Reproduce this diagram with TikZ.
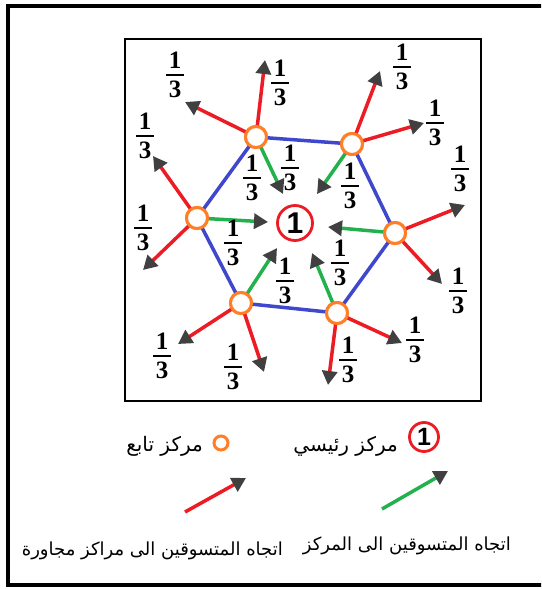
\documentclass[tikz,border=0pt]{standalone}
\usepackage{fontspec}
\setmainfont{Liberation Serif}
\newfontfamily\arabicfont[Script=Arabic]{DejaVu Sans}
\newfontfamily\digitfont{Liberation Sans}
\TeXXeTstate=1
\usetikzlibrary{arrows.meta}
\definecolor{cred}{RGB}{237,28,36}
\definecolor{cgreen}{RGB}{34,177,76}
\definecolor{cblue}{RGB}{63,72,204}
\definecolor{corange}{RGB}{255,127,39}
\definecolor{ctip}{RGB}{64,64,64}
\newcommand{\tf}{\vbox{\offinterlineskip\halign{\hfil##\hfil\cr \textbf{1}\cr\noalign{\kern5pt}\rule{0.7em}{2.6pt}\cr\noalign{\kern4.5pt}\textbf{3}\cr}}}
\tikzset{
  x=1pt,y=-1pt,
  sat/.style={circle,draw=corange,line width=3pt,fill=white,minimum size=21pt,inner sep=0pt},
  maincirc/.style={circle,draw=cred,line width=2.8pt,fill=white,minimum size=35pt,inner sep=0pt,font=\digitfont\bfseries\fontsize{30}{30}\selectfont},
  edge/.style={draw=cblue,line width=3.5pt},
  rarrow/.style={draw=cred,line width=3.5pt,-{Triangle[length=14pt,width=15pt,color=ctip]}},
  garrow/.style={draw=cgreen,line width=3.5pt,-{Triangle[length=14pt,width=15pt,color=ctip]}},
  frac/.style={font=\fontsize{25}{27}\selectfont,inner sep=0pt},
  artext/.style={font=\arabicfont\fontsize{18}{20}\selectfont,inner sep=0pt},
  artextb/.style={font=\arabicfont\fontsize{20}{22}\selectfont,inner sep=0pt}
}
\begin{document}
\begin{tikzpicture}
\useasboundingbox (0,0) rectangle (541,589);
\clip (0,0) rectangle (541,589);
\fill[white] (0,0) rectangle (541,589);
% outer frame
\draw[line width=4pt] (560,6) -- (8,6) -- (8,585) -- (560,585);
% inner box
\draw[line width=2.5pt] (125,39) rectangle (481,401);
% hexagon vertices
\node[sat] (A) at (256,137) {};
\node[sat] (B) at (352,144) {};
\node[sat] (Cc) at (395,233) {};
\node[sat] (D) at (337,313) {};
\node[sat] (E) at (241,303) {};
\node[sat] (F) at (197,218) {};
\node[maincirc] (M) at (295,223) {1};
% edges
\path[edge] (A.center) -- (B.center) -- (Cc.center) -- (D.center) -- (E.center) -- (F.center) -- cycle;
% green arrow ends
\coordinate (gA) at (283,194);
\coordinate (gB) at (317,194);
\coordinate (gC) at (328,227);
\coordinate (gD) at (312,253);
\coordinate (gE) at (277,248);
\coordinate (gF) at (268,222);
% red arrow ends
\coordinate (rA1) at (265,60);
\coordinate (rA2) at (185,102);
\coordinate (rB1) at (380,71);
\coordinate (rB2) at (424,123);
\coordinate (rC1) at (465,205);
\coordinate (rC2) at (442,284);
\coordinate (rD1) at (402,343);
\coordinate (rD2) at (328,385);
\coordinate (rE1) at (178,344);
\coordinate (rE2) at (264,372);
\coordinate (rF1) at (153,156);
\coordinate (rF2) at (143,270);
\foreach \v/\t in {A/gA,B/gB,Cc/gC,D/gD,E/gE,F/gF}{
  \draw[garrow] (\v.center) -- (\t);
}
\foreach \v/\t in {A/rA1,A/rA2,B/rB1,B/rB2,Cc/rC1,Cc/rC2,D/rD1,D/rD2,E/rE1,E/rE2,F/rF1,F/rF2}{
  \draw[rarrow] (\v.center) -- (\t);
}
% redraw vertex circles on top
\foreach \v in {A,B,Cc,D,E,F}{
  \node[sat] at (\v) {};
}
% fractions outer
\node[frac] (f1) at (175,75) {\tf};
\node[frac] (f2) at (280,83) {\tf};
\node[frac] (f3) at (402,67) {\tf};
\node[frac] (f4) at (435,123) {\tf};
\node[frac] (f5) at (460,169) {\tf};
\node[frac] (f6) at (458,291) {\tf};
\node[frac] (f7) at (415,340) {\tf};
\node[frac] (f8) at (348,360) {\tf};
\node[frac] (f9) at (233,367) {\tf};
\node[frac] (f10) at (162,356) {\tf};
\node[frac] (f11) at (143,228) {\tf};
\node[frac] (f12) at (145,136) {\tf};
% fractions inner
\node[frac] (f13) at (252,178) {\tf};
\node[frac] (f14) at (290,168) {\tf};
\node[frac] (f15) at (350,186) {\tf};
\node[frac] (f16) at (233,243) {\tf};
\node[frac] (f17) at (285,281) {\tf};
\node[frac] (f18) at (340,263) {\tf};
% legend
\node[maincirc,minimum size=29pt,font=\digitfont\bfseries\fontsize{25}{25}\selectfont] (L1) at (424,437) {1};
\node[artextb,anchor=east] (L1t) at (398,446) {\beginR مركز رئيسي\endR};
\node[circle,draw=corange,line width=3pt,fill=white,minimum width=11pt,minimum height=14pt,inner sep=0pt] (L2) at (221,443) {};
\node[artextb,anchor=east] (L2t) at (203,446) {\beginR مركز تابع\endR};
\coordinate (ra) at (185,512);
\coordinate (rb) at (246,478);
\draw[rarrow] (ra) -- (rb);
\coordinate (ga) at (382,509);
\coordinate (gb) at (448,471);
\draw[garrow] (ga) -- (gb);
\node[artext,anchor=east] (L3t) at (283,551) {\beginR اتجاه المتسوقين الى مراكز مجاورة\endR};
\node[artext,anchor=east] (L4t) at (511,546) {\beginR اتجاه المتسوقين الى المركز\endR};
\end{tikzpicture}
\end{document}
